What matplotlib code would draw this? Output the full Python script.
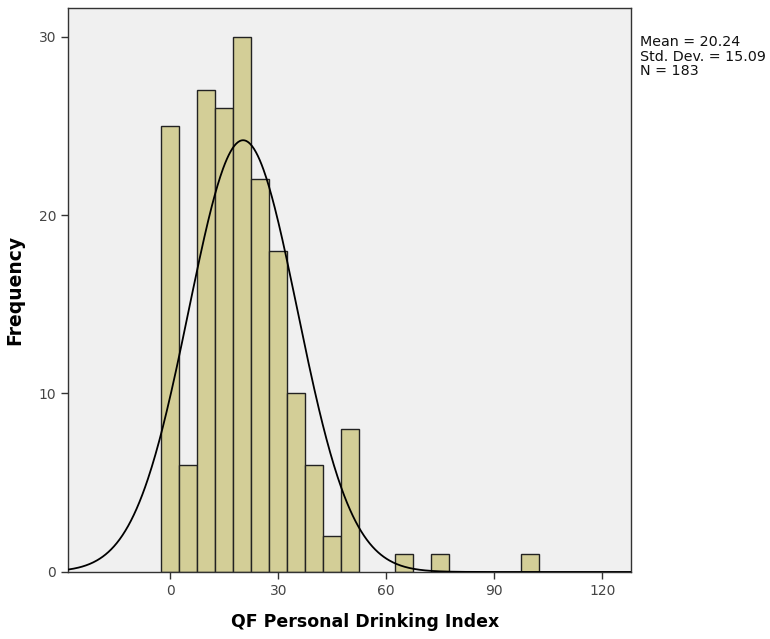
import numpy as np
import matplotlib
matplotlib.use("Agg")
import matplotlib.pyplot as plt

# bin centres (width 5) and counts
bin_centers = [0, 5, 10, 15, 20, 25, 30, 35, 40, 45, 50, 55, 60, 65, 70, 75, 80, 85, 90, 95, 100]
counts = [25, 6, 27, 26, 30, 22, 18, 10, 6, 2, 8, 0, 0, 1, 0, 1, 0, 0, 0, 0, 1]
bin_width = 5

mean = 20.24
std = 15.09
n = 183

x_ticks = [0, 30, 60, 90, 120]
y_ticks = [0, 10, 20, 30]

fig = plt.figure(figsize=(7.7, 6.39), dpi=100)
ax = fig.add_axes([0.0883, 0.1049, 0.7312, 0.8826])
ax.set_facecolor("#f0f0f0")

heights = np.array(counts)
centers = np.array(bin_centers)
mask = heights > 0
ax.bar(centers[mask], heights[mask], width=bin_width, color="#d3ce97",
       edgecolor="#222222", linewidth=1.0, zorder=2)

# fitted normal curve, scaled to counts
xs = np.linspace(-28.4, 128, 600)
ys = n * bin_width / (std * np.sqrt(2 * np.pi)) * np.exp(-0.5 * ((xs - mean) / std) ** 2)
ax.plot(xs, ys, color="black", linewidth=1.3, zorder=3)

ax.set_xlim(-28.4, 128)
ax.set_ylim(0, 31.6)
ax.set_xticks(x_ticks)
ax.set_yticks(y_ticks)
ax.tick_params(direction="out", length=5, width=1, color="#333333",
               labelcolor="#444444", labelsize=10)
for s in ax.spines.values():
    s.set_color("#333333")
    s.set_linewidth(1)

ax.set_xlabel("QF Personal Drinking Index", fontsize=12.5, fontweight="bold")
ax.xaxis.set_label_coords(0.527, -0.072)
ax.set_ylabel("Frequency", fontsize=13.5, fontweight="bold", labelpad=10)

fig.text(0.831, 0.945, "Mean = 20.24\nStd. Dev. = 15.09\nN = 183",
         fontsize=10.3, va="top", ha="left", color="#111111", linespacing=1.05)

fig.savefig("out.png", dpi=100, facecolor="white")
